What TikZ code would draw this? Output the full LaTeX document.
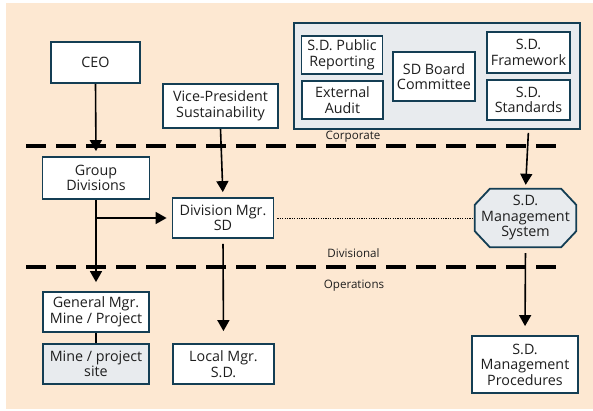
\documentclass[tikz,border=0pt]{standalone}
\usepackage{fontspec}
\setmainfont{Open Sans}
\usetikzlibrary{arrows.meta, positioning, calc}
\definecolor{peach}{RGB}{253,232,210}
\definecolor{boxline}{RGB}{20,62,84}
\definecolor{panelgrey}{RGB}{232,235,238}
\definecolor{txtgrey}{RGB}{30,30,30}

\begin{document}
\begin{tikzpicture}[
  x=1pt, y=-1pt,
  every node/.style={text=txtgrey, font=\fontsize{14.3}{15.5}\selectfont},
  orgbox/.style={draw=boxline, line width=1.8pt, fill=white, align=center, inner sep=0pt},
  greybox/.style={orgbox, fill=panelgrey},
  lvllbl/.style={font=\fontsize{11.6}{12}\selectfont, inner sep=0pt},
  divline/.style={line width=3.5pt, dash pattern=on 20pt off 10pt},
  arr/.style={line width=1.6pt, -{Triangle[width=12pt,length=11pt]}},
  link/.style={line width=1.6pt},
  dotlink/.style={line width=0.8pt, dash pattern=on 1.2pt off 1.2pt}
]
% page
\useasboundingbox (0,0) rectangle (593,411);
\fill[peach] (6,3) rectangle (593,409);

% corporate panel
\node[greybox, minimum width=286pt, minimum height=106pt] (corp) at (437,76) {};
\node[orgbox, minimum width=81pt, minimum height=38pt] (pubrep) at (342,55) {S.D. Public\\Reporting};
\node[orgbox, minimum width=81pt, minimum height=38pt] (extaud) at (342.5,100) {External\\Audit};
\node[orgbox, minimum width=82pt, minimum height=49pt] (board) at (434,76.5) {SD Board\\Committee};
\node[orgbox, minimum width=83pt, minimum height=41pt] (framework) at (528.5,52.5) {S.D.\\Framework};
\node[orgbox, minimum width=83pt, minimum height=40pt] (standards) at (528.5,100) {S.D.\\Standards};

% left side
\node[orgbox, minimum width=89pt, minimum height=41pt] (ceo) at (95.5,62.5) {CEO};
\node[orgbox, minimum width=115pt, minimum height=44pt] (vp) at (220.5,106) {Vice-President\\Sustainability};
\node[orgbox, minimum width=107pt, minimum height=42pt] (groupdiv) at (96,178) {Group\\Divisions};
\node[orgbox, minimum width=101pt, minimum height=40pt] (divmgr) at (223,218) {Division Mgr.\\SD};
\node[orgbox, minimum width=106pt, minimum height=40pt] (genmgr) at (96,312) {General Mgr.\\Mine / Project};
\node[greybox, minimum width=106pt, minimum height=40pt] (site) at (96,364) {Mine / project\\site};
\node[orgbox, minimum width=101pt, minimum height=40pt] (localmgr) at (223.5,364) {Local Mgr.\\S.D.};

% right side
\node[inner sep=0pt, minimum width=101pt, minimum height=58pt] (mgmtsys) at (525.5,218) {};
\node[orgbox, minimum width=106pt, minimum height=57pt] (procs) at (525,364.5) {S.D.\\Management\\Procedures};

% octagon round the system node
\filldraw[fill=panelgrey, draw=boxline, line width=1.8pt]
  ($(mgmtsys.north west)+(15,0)$) -- ($(mgmtsys.north east)+(-15,0)$)
  -- ($(mgmtsys.north east)+(0,16)$) -- ($(mgmtsys.south east)+(0,-16)$)
  -- ($(mgmtsys.south east)+(-15,0)$) -- ($(mgmtsys.south west)+(15,0)$)
  -- ($(mgmtsys.south west)+(0,-16)$) -- ($(mgmtsys.north west)+(0,16)$) -- cycle;
\node[align=center, inner sep=0pt] (mgmttxt) at (mgmtsys.center) {S.D.\\Management\\System};

% level lines
\draw[divline] (26,146) -- (560,146);
\draw[divline] (26,267) -- (562,267);
\node[lvllbl] (corplbl) at (353,137) {Corporate};
\node[lvllbl] (divlbl) at (353.5,253) {Divisional};
\node[lvllbl] (opslbl) at (354,286) {Operations};

% connectors
\draw[arr, shorten >=5pt] (ceo.south) -- (groupdiv.north);
\draw[arr, shorten >=5pt] (vp.south) -- (divmgr.north);
\draw[arr, shorten >=9pt] (groupdiv.south) -- (genmgr.north);
\draw[arr, shorten >=5pt] (groupdiv.south |- divmgr.west) -- (divmgr.west);
\draw[arr, shorten <=5pt, shorten >=12pt] (divmgr.south) -- (localmgr.north);
\draw[arr, shorten <=3pt, shorten >=4pt] (standards.south |- corp.south) -- (mgmtsys.north);
\draw[arr, shorten <=6pt, shorten >=9pt] (mgmtsys.south) -- (procs.north);
\draw[link] (genmgr.south) -- (site.north);
\draw[dotlink, shorten <=3pt, shorten >=2pt] (divmgr.east) -- (mgmtsys.west);
\end{tikzpicture}
\end{document}
